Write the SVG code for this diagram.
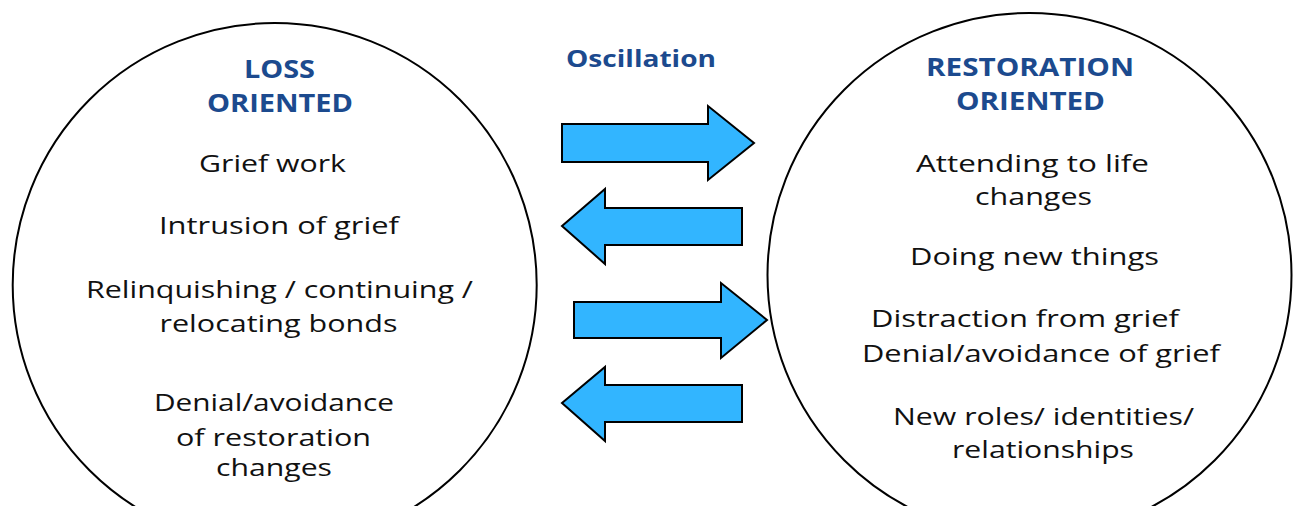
<svg xmlns="http://www.w3.org/2000/svg" width="1295" height="506" viewBox="0 0 1295 506">
  <style>
    .ring { fill: #ffffff; stroke: #000000; stroke-width: 2; }
    .head { font-family: "Open Sans", "Liberation Sans", sans-serif; font-weight: bold; font-size: 24.5px; fill: #1C4A8E; }
    .item { font-family: "Open Sans", "Liberation Sans", sans-serif; font-size: 24.5px; fill: #111111; }
    .osc { font-family: "Open Sans", "Liberation Sans", sans-serif; font-weight: bold; font-size: 23px; fill: #1C4A8E; }
    .flow { fill: #32B5FF; stroke: #000000; stroke-width: 2; stroke-linejoin: miter; }
  </style>
  <rect width="1295" height="506" fill="#ffffff"/>

  <!-- Loss-oriented coping -->
  <g id="loss-oriented">
    <circle class="ring" cx="274.7" cy="285" r="262"/>
    <text class="head" x="244" y="78" textLength="71" lengthAdjust="spacingAndGlyphs">LOSS</text>
    <text class="head" x="207" y="112" textLength="146" lengthAdjust="spacingAndGlyphs">ORIENTED</text>
    <text class="item" x="199" y="172" textLength="147" lengthAdjust="spacingAndGlyphs">Grief work</text>
    <text class="item" x="159" y="234" textLength="240" lengthAdjust="spacingAndGlyphs">Intrusion of grief</text>
    <text class="item" x="86" y="298" textLength="387" lengthAdjust="spacingAndGlyphs">Relinquishing / continuing /</text>
    <text class="item" x="159.5" y="332" textLength="238" lengthAdjust="spacingAndGlyphs">relocating bonds</text>
    <text class="item" x="154" y="411" textLength="240" lengthAdjust="spacingAndGlyphs">Denial/avoidance</text>
    <text class="item" x="176" y="446" textLength="195" lengthAdjust="spacingAndGlyphs">of restoration</text>
    <text class="item" x="216" y="476" textLength="116" lengthAdjust="spacingAndGlyphs">changes</text>
  </g>

  <!-- Restoration-oriented coping -->
  <g id="restoration-oriented">
    <circle class="ring" cx="1029.5" cy="275" r="262"/>
    <text class="head" x="926" y="76" textLength="208" lengthAdjust="spacingAndGlyphs">RESTORATION</text>
    <text class="head" x="956" y="110" textLength="149" lengthAdjust="spacingAndGlyphs">ORIENTED</text>
    <text class="item" x="916" y="172" textLength="233" lengthAdjust="spacingAndGlyphs">Attending to life</text>
    <text class="item" x="975" y="205" textLength="117" lengthAdjust="spacingAndGlyphs">changes</text>
    <text class="item" x="910" y="265" textLength="249" lengthAdjust="spacingAndGlyphs">Doing new things</text>
    <text class="item" x="871" y="327" textLength="308" lengthAdjust="spacingAndGlyphs">Distraction from grief</text>
    <text class="item" x="862" y="362" textLength="358" lengthAdjust="spacingAndGlyphs">Denial/avoidance of grief</text>
    <text class="item" x="893" y="425" textLength="301" lengthAdjust="spacingAndGlyphs">New roles/ identities/</text>
    <text class="item" x="952" y="458" textLength="182" lengthAdjust="spacingAndGlyphs">relationships</text>
  </g>

  <!-- Label over the arrows -->
  <g id="oscillation">
    <text class="osc" x="566" y="67" textLength="150" lengthAdjust="spacingAndGlyphs">Oscillation</text>
  </g>

  <!-- Block arrows moving back and forth between the two modes -->
  <g id="connectors">
    <polygon class="flow" points="562,124 708,124 708,106 754,143 708,180 708,162 562,162"/>
    <polygon class="flow" points="742,208 605,208 605,189 562,226 605,264 605,245 742,245"/>
    <polygon class="flow" points="574,302 721,302 721,283 767,320 721,358 721,338 574,338"/>
    <polygon class="flow" points="742,385 605,385 605,367 562,403 605,441 605,422 742,422"/>
  </g>
</svg>
